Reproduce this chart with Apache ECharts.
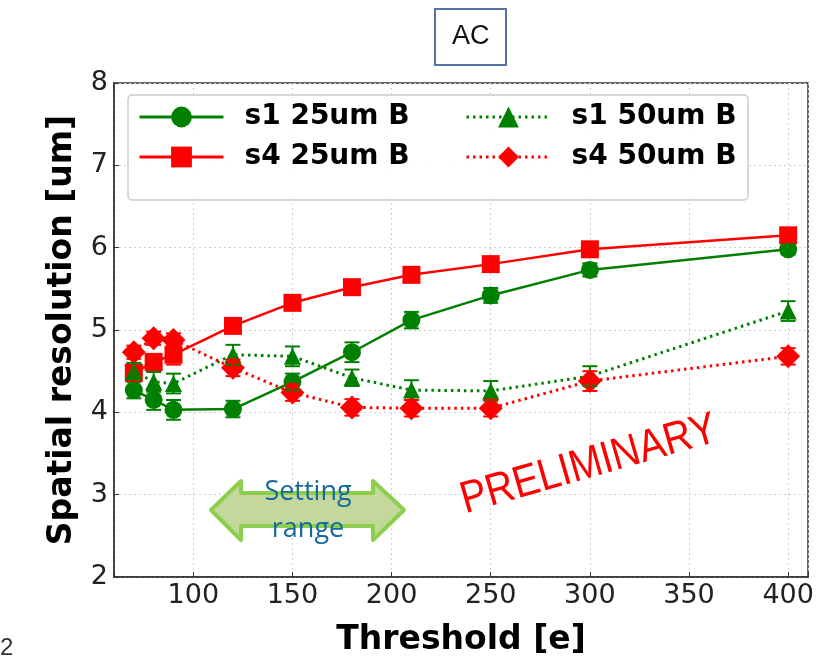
<!DOCTYPE html>
<html>
<head>
<meta charset="utf-8">
<script src="https://cdn.jsdelivr.net/npm/echarts@6/dist/echarts.min.js"></script>
<style>
  html, body { margin: 0; padding: 0; background: #fff; }
  #main { width: 819px; height: 663px; }
</style>
</head>
<body>
<div id="main"></div>
<script>
// threshold values [e]
const thresholds = [70, 80, 90, 120, 150, 180, 210, 250, 300, 400];

// spatial resolution [um]
const s1_25 = [4.27, 4.15, 4.03, 4.04, 4.37, 4.73, 5.12, 5.42, 5.73, 5.98];
const s4_25 = [4.48, 4.61, 4.70, 5.05, 5.33, 5.52, 5.67, 5.80, 5.98, 6.15];
const s1_50 = [4.50, 4.37, 4.35, 4.70, 4.68, 4.42, 4.27, 4.26, 4.44, 5.23];
const s4_50 = [4.73, 4.90, 4.88, 4.54, 4.24, 4.06, 4.05, 4.05, 4.38, 4.68];

// error bar half heights
const s1_25_err = [0.10, 0.12, 0.12, 0.10, 0.10, 0.12, 0.10, 0.09, 0.08, 0.06];
const s4_25_err = [0.10, 0.10, 0.12, 0.06, 0.05, 0.05, 0.05, 0.05, 0.05, 0.05];
const s1_50_err = [0.10, 0.12, 0.12, 0.12, 0.12, 0.10, 0.12, 0.12, 0.12, 0.12];
const s4_50_err = [0.08, 0.08, 0.08, 0.10, 0.10, 0.10, 0.10, 0.10, 0.12, 0.10];

const GREEN = '#008000';
const RED = '#ff0000';

const chart = echarts.init(document.getElementById('main'));

function lineSeries(name, ys, color, symbol, size, dotted) {
    return {
        name: name,
        type: 'line',
        data: thresholds.map((x, i) => [x, ys[i]]),
        symbol: symbol,
        symbolSize: size,
        showAllSymbol: true,
        color: color,
        itemStyle: { color: color, opacity: 1 },
        lineStyle: { color: color, width: dotted ? 3 : 2.5, type: dotted ? [2.5, 4] : 'solid' },
        z: 3
    };
}

// error bars drawn through the axes with a custom series
function errorSeries(ys, errs, color) {
    return {
        type: 'custom',
        silent: true,
        z: 4,
        data: thresholds.map((x, i) => [x, ys[i] - errs[i], ys[i] + errs[i]]),
        encode: { x: 0, y: [1, 2] },
        renderItem: function (params, api) {
            const lo = api.coord([api.value(0), api.value(1)]);
            const hi = api.coord([api.value(0), api.value(2)]);
            const cap = 7.5;
            const st = { stroke: color, lineWidth: 2 };
            return {
                type: 'group',
                children: [
                    { type: 'line', shape: { x1: lo[0], y1: lo[1], x2: hi[0], y2: hi[1] }, style: st },
                    { type: 'line', shape: { x1: lo[0] - cap, y1: lo[1], x2: lo[0] + cap, y2: lo[1] }, style: st },
                    { type: 'line', shape: { x1: hi[0] - cap, y1: hi[1], x2: hi[0] + cap, y2: hi[1] }, style: st }
                ]
            };
        }
    };
}

const legendText = {
    fontFamily: 'DejaVu Sans',
    fontWeight: 'bold',
    fontSize: 28,
    color: '#000',
    padding: [0, 0, 0, 16]
};

const axisName = { fontFamily: 'DejaVu Sans', fontWeight: 'bold', fontSize: 33, color: '#000' };
const grid = { color: '#d0d0d0', type: [2, 3], width: 1 };

const option = {
    animation: false,
    title: {
        text: 'AC',
        left: 435,
        top: 9,
        padding: [14, 17, 15, 17],
        borderColor: '#5673a8',
        borderWidth: 2,
        textStyle: { fontFamily: 'Liberation Sans', fontWeight: 'normal', fontSize: 27, color: '#111' }
    },
    grid: {
        left: 114, right: 11, top: 83, bottom: 86,
        show: true,
        borderColor: '#333',
        borderWidth: 1.5,
        backgroundColor: 'transparent'
    },
    legend: [
        {
            orient: 'vertical',
            left: 138, top: 103, padding: 0,
            itemWidth: 84, itemHeight: 26, itemGap: 12,
            data: ['s1 25um B', 's4 25um B'],
            lineStyle: { width: 3 },
            textStyle: legendText
        },
        {
            orient: 'vertical',
            left: 465, top: 103, padding: 0,
            itemWidth: 84, itemHeight: 26, itemGap: 12,
            data: ['s1 50um B', 's4 50um B'],
            lineStyle: { width: 3 },
            textStyle: legendText
        }
    ],
    xAxis: {
        type: 'value',
        min: 60, max: 410,
        splitNumber: 7,
        name: 'Threshold [e]',
        nameLocation: 'middle',
        nameGap: 47,
        nameTextStyle: axisName,
        axisLine: { show: true, lineStyle: { color: '#333', width: 1.5 } },
        axisTick: { show: true, inside: true, length: 5, lineStyle: { color: '#333' } },
        axisLabel: {
            margin: 5,
            fontFamily: 'DejaVu Sans', fontSize: 27, color: '#222',
            formatter: v => (v % 50 === 0 ? String(v) : '')
        },
        splitLine: { show: true, lineStyle: grid }
    },
    yAxis: {
        type: 'value',
        min: 2, max: 8, interval: 1,
        name: 'Spatial resolution [um]',
        nameLocation: 'middle',
        nameGap: 35,
        nameTextStyle: axisName,
        axisLine: { show: true, lineStyle: { color: '#333', width: 1.5 } },
        axisTick: { show: true, inside: true, length: 5, lineStyle: { color: '#333' } },
        axisLabel: { margin: 6, fontFamily: 'DejaVu Sans', fontSize: 27, color: '#222' },
        splitLine: { show: true, lineStyle: grid }
    },
    series: [
        lineSeries('s1 25um B', s1_25, GREEN, 'circle', 18, false),
        lineSeries('s4 25um B', s4_25, RED, 'rect', 18, false),
        lineSeries('s1 50um B', s1_50, GREEN, 'triangle', 17, true),
        lineSeries('s4 50um B', s4_50, RED, 'diamond', 24, true),
        errorSeries(s1_25, s1_25_err, GREEN),
        errorSeries(s4_25, s4_25_err, RED),
        errorSeries(s1_50, s1_50_err, GREEN),
        errorSeries(s4_50, s4_50_err, RED)
    ],
    graphic: [
        // legend frame
        {
            type: 'rect', z: 1,
            shape: { x: 128, y: 95, width: 620, height: 105, r: 4 },
            style: { fill: 'rgba(255,255,255,0.9)', stroke: '#cccccc', lineWidth: 1.5 }
        },
        // "Setting range" double arrow
        {
            type: 'polygon', z: 5,
            shape: {
                points: [[211, 510], [241, 481], [241, 493], [373, 493], [373, 481],
                         [404, 510], [373, 540], [373, 526], [241, 526], [241, 540]]
            },
            style: { fill: '#c4d89c', stroke: '#8ccf4c', lineWidth: 4, lineJoin: 'round' }
        },
        {
            type: 'text', z: 6,
            x: 308, y: 511,
            style: {
                text: 'Setting\nrange',
                fill: '#17689e',
                font: '27px "Open Sans"',
                lineHeight: 37,
                align: 'center',
                verticalAlign: 'middle'
            }
        },
        {
            type: 'text', z: 6,
            x: 589, y: 465,
            rotation: 16 * Math.PI / 180,
            scaleX: 0.87,
            style: {
                text: 'PRELIMINARY',
                fill: '#ff0000',
                font: '45px "Liberation Sans"',
                align: 'center',
                verticalAlign: 'middle'
            }
        },
        {
            type: 'text',
            left: 0, top: 636,
            style: { text: '2', fill: '#333', font: '24px "Liberation Sans"' }
        }
    ]
};

chart.setOption(option);
</script>
</body>
</html>
